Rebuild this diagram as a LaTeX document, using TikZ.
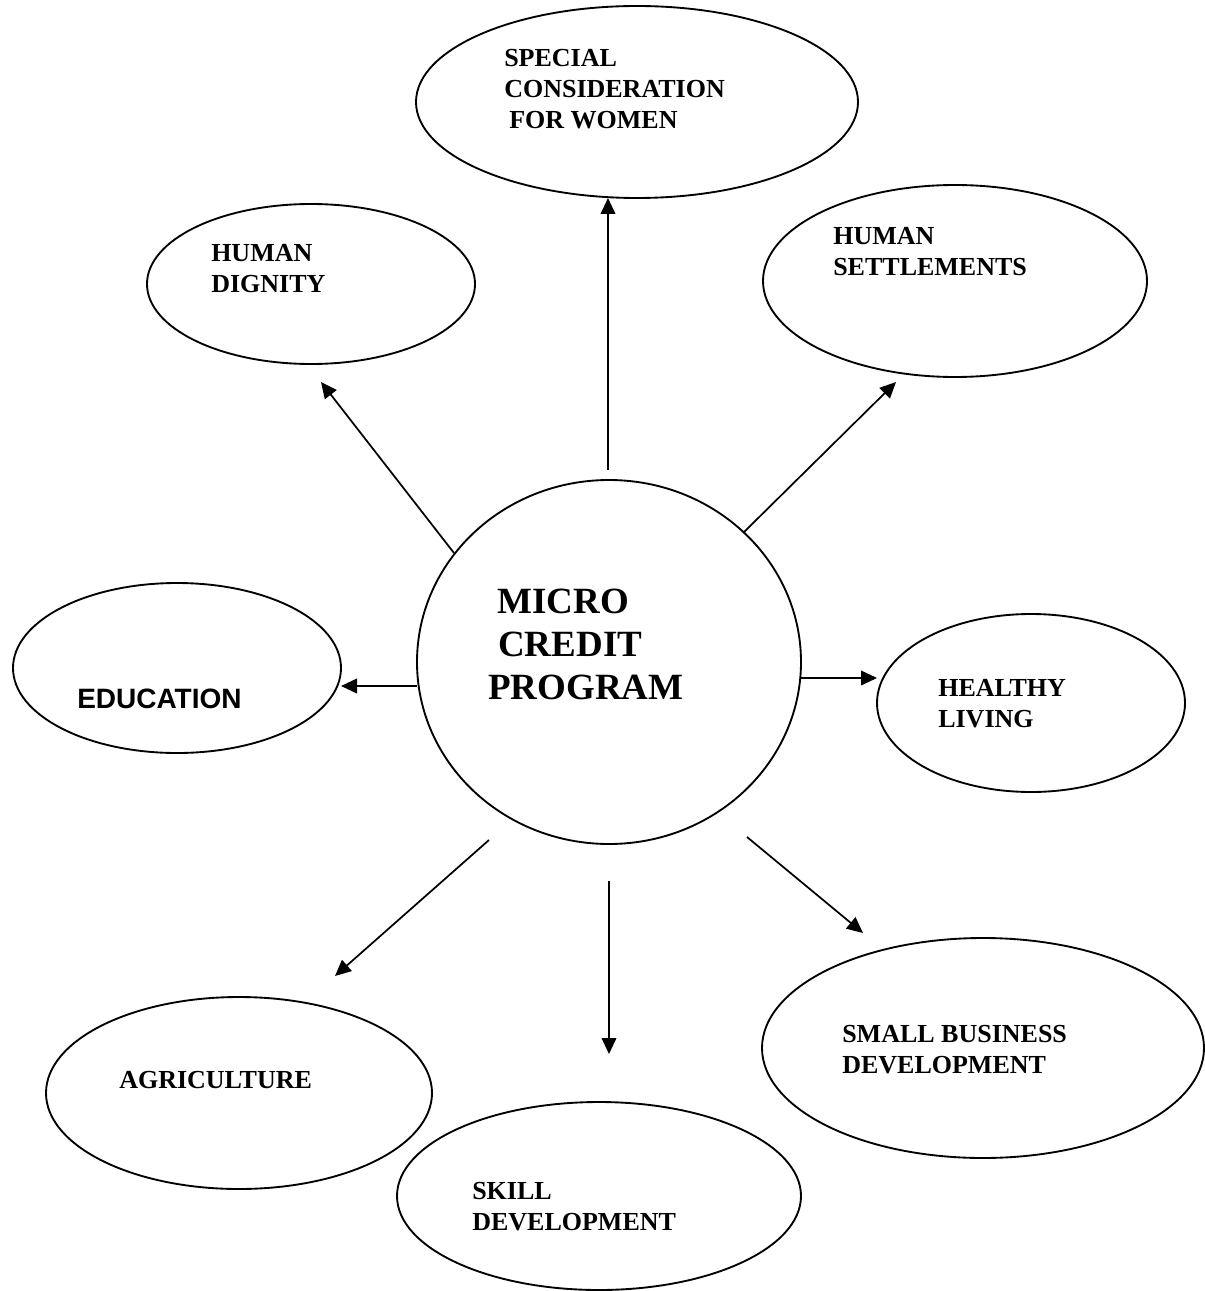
\documentclass[tikz,border=0pt]{standalone}
\usepackage{fontspec}
\setmainfont{Liberation Serif}
\newfontfamily\labelsans{Liberation Sans}
\usetikzlibrary{shapes.geometric,arrows.meta}

\begin{document}
\begin{tikzpicture}[x=0.75pt,y=-0.75pt,
  bubble/.style 2 args={ellipse, draw, line width=1.4pt,
    minimum width=#1*1.5pt, minimum height=#2*1.5pt, inner sep=0pt},
  caption/.style={anchor=base west, inner sep=0pt,
    font=\fontsize{19.5}{23.25}\selectfont\bfseries},
  bigcaption/.style={anchor=base west, inner sep=0pt,
    font=\fontsize{27.75}{32.25}\selectfont\bfseries},
  link/.style={line width=1.3pt, -{Triangle[length=12pt,width=11pt]}}
]
% page
\fill[white] (0,0) rectangle (1204,1291);
\useasboundingbox (0,0) rectangle (1204,1291);

% central programme
\node[bubble={192}{182}] (mcp) at (609,662) {};
\node[bigcaption] (mcptext) at (488,613)
  {\begin{tabular}[t]{@{}l@{}}\hspace{7pt}MICRO\\\hspace{7.5pt}CREDIT\\PROGRAM\end{tabular}};

% outcome ellipses
\node[bubble={221}{96}]  (women)    at (637,102)  {};
\node[bubble={164}{80}]  (dignity)  at (311,284)  {};
\node[bubble={192}{96}]  (settle)   at (955,281)  {};
\node[bubble={164}{85}]  (educ)     at (177,668)  {};
\node[bubble={154}{89}]  (health)   at (1031,703) {};
\node[bubble={193}{96}]  (agri)     at (239,1093) {};
\node[bubble={202}{94}]  (skill)    at (599,1196) {};
\node[bubble={221}{110}] (business) at (983,1048) {};

% their captions
\node[caption] (womentext) at (504,67)
  {\begin{tabular}[t]{@{}l@{}}SPECIAL\\CONSIDERATION\\\hspace{3.75pt}FOR WOMEN\end{tabular}};
\node[caption] (dignitytext) at (211,262)
  {\begin{tabular}[t]{@{}l@{}}HUMAN\\DIGNITY\end{tabular}};
\node[caption] (settletext) at (833,245)
  {\begin{tabular}[t]{@{}l@{}}HUMAN\\SETTLEMENTS\end{tabular}};
\node[anchor=base west, inner sep=0pt,
  font=\labelsans\fontsize{21}{25}\selectfont\bfseries] (eductext) at (77,708) {EDUCATION};
\node[caption] (healthtext) at (938,696)
  {\begin{tabular}[t]{@{}l@{}}HEALTHY\\LIVING\end{tabular}};
\node[caption] (agritext) at (119,1088) {AGRICULTURE};
\node[caption] (skilltext) at (472,1199)
  {\begin{tabular}[t]{@{}l@{}}SKILL\\DEVELOPMENT\end{tabular}};
\node[caption] (businesstext) at (842,1042)
  {\begin{tabular}[t]{@{}l@{}}SMALL BUSINESS\\DEVELOPMENT\end{tabular}};

% arrow ends
\coordinate (upS)   at (608,470);
\coordinate (upE)   at (608,198);
\coordinate (digS)  at (454,553);
\coordinate (digE)  at (321,382);
\coordinate (setS)  at (743,533);
\coordinate (setE)  at (896,382);
\coordinate (eduS)  at (417,686);
\coordinate (eduE)  at (341,686);
\coordinate (heaS)  at (800,678);
\coordinate (heaE)  at (877,678);
\coordinate (agrS)  at (489,840);
\coordinate (agrE)  at (335,976);
\coordinate (sklS)  at (609,881);
\coordinate (sklE)  at (609,1054);
\coordinate (busS)  at (747,837);
\coordinate (busE)  at (863,933);

% arrows from the programme to each outcome
\draw[link] (upS) -- (upE);
\draw[link] (digS) -- (digE);
\draw[link] (setS) -- (setE);
\draw[link] (eduS) -- (eduE);
\draw[link] (heaS) -- (heaE);
\draw[link] (agrS) -- (agrE);
\draw[link] (sklS) -- (sklE);
\draw[link] (busS) -- (busE);
\end{tikzpicture}
\end{document}
